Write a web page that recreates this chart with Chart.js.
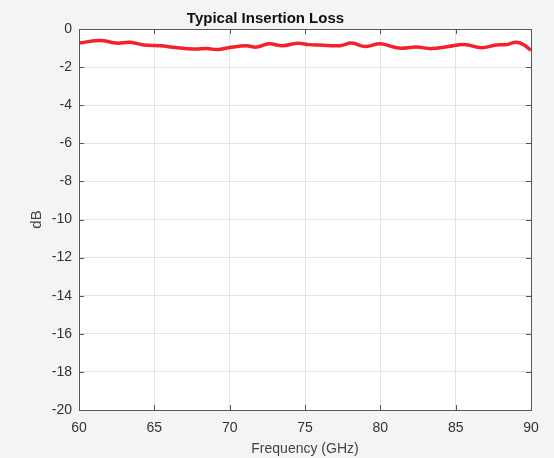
<!DOCTYPE html>
<html lang="en">
<head>
    <meta charset="UTF-8">
    <title>Typical Insertion Loss</title>
    <script src="https://cdn.jsdelivr.net/npm/chart.js"></script>
    <style>
        html, body { margin: 0; padding: 0; background: #f3f4f6; }
        #wrap { width: 554px; height: 458px; }
    </style>
</head>
<body>
    <div id="wrap"><canvas id="lossChart" width="554" height="458"></canvas></div>

    <script>
        // Frekvencia (GHz) és beiktatási csillapítás (dB)
        const freqGHz = [60, 61.4, 62.5, 63.4, 64.3, 65.4, 66.4, 67.6, 68.5, 69.2, 70, 71.1, 71.8, 72.6, 73.5, 74.5,
                         75.3, 76, 77.3, 78.1, 79, 80, 81.2, 82.4, 83.4, 84.5, 85.6, 86.7, 87.7, 88.4, 89, 89.5, 90];
        const lossDb = [-0.74, -0.6, -0.74, -0.7, -0.84, -0.88, -0.97, -1.05, -1.03, -1.08, -0.97, -0.88, -0.95, -0.78, -0.88, -0.75,
                        -0.82, -0.84, -0.88, -0.74, -0.92, -0.78, -1.0, -0.95, -1.03, -0.92, -0.81, -0.98, -0.84, -0.82, -0.7, -0.82, -1.12];
        const xTicks = [60, 65, 70, 75, 80, 85, 90];
        const yTicks = [0, -2, -4, -6, -8, -10, -12, -14, -16, -18, -20];

        const font = 'Liberation Sans, Arial, sans-serif';

        // fehér rajzterület + befelé álló osztásjelek mind a négy oldalon
        const boxPlugin = {
            id: 'box',
            beforeDraw(chart) {
                const { ctx, chartArea: a } = chart;
                ctx.save();
                ctx.fillStyle = '#ffffff';
                ctx.fillRect(a.left, a.top, a.right - a.left, a.bottom - a.top);
                ctx.restore();
            },
            afterDatasetsDraw(chart) {
                const { ctx, chartArea: a, scales } = chart;
                ctx.save();
                ctx.strokeStyle = '#555';
                ctx.lineWidth = 1;
                ctx.beginPath();
                xTicks.forEach(v => {
                    const x = Math.round(scales.x.getPixelForValue(v)) + 0.5;
                    ctx.moveTo(x, a.bottom); ctx.lineTo(x, a.bottom - 5);
                    ctx.moveTo(x, a.top); ctx.lineTo(x, a.top + 5);
                });
                yTicks.forEach(v => {
                    const y = Math.round(scales.y.getPixelForValue(v)) + 0.5;
                    ctx.moveTo(a.left, y); ctx.lineTo(a.left + 5, y);
                    ctx.moveTo(a.right, y); ctx.lineTo(a.right - 5, y);
                });
                ctx.stroke();
                ctx.strokeRect(Math.round(a.left) + 0.5, Math.round(a.top) + 0.5,
                    Math.round(a.right - a.left), Math.round(a.bottom - a.top));
                ctx.restore();
            }
        };

        const ctx = document.getElementById('lossChart').getContext('2d');
        const chart = new Chart(ctx, {
            type: 'line',
            data: {
                datasets: [{
                    data: freqGHz.map((f, i) => ({ x: f, y: lossDb[i] })),
                    borderColor: '#f2212b',
                    borderWidth: 3.5,
                    pointRadius: 0,
                    tension: 0.4,
                    fill: false
                }]
            },
            options: {
                responsive: false,
                animation: false,
                layout: { padding: { left: 0, right: 23, top: 0, bottom: 0 } },
                plugins: {
                    legend: { display: false },
                    tooltip: { enabled: false },
                    title: {
                        display: true,
                        text: 'Typical Insertion Loss',
                        color: '#111',
                        font: { family: font, size: 15, weight: 'bold' },
                        padding: { top: 10, bottom: 1 }
                    }
                },
                scales: {
                    x: {
                        type: 'linear',
                        min: 60, max: 90,
                        afterBuildTicks: s => { s.ticks = xTicks.map(v => ({ value: v })); },
                        afterFit: s => { s.height = 48; },
                        grid: { color: '#e3e3e3', drawTicks: false },
                        border: { display: false },
                        ticks: { color: '#333', font: { family: font, size: 14 }, padding: 10, maxRotation: 0 },
                        title: {
                            display: true,
                            text: 'Frequency (GHz)',
                            color: '#444',
                            font: { family: font, size: 14 },
                            padding: { top: 0, bottom: 0 }
                        }
                    },
                    y: {
                        min: -20, max: 0,
                        afterBuildTicks: s => { s.ticks = yTicks.map(v => ({ value: v })); },
                        afterFit: s => { s.width = 79; },
                        grid: { color: '#e3e3e3', drawTicks: false },
                        border: { display: false },
                        ticks: { color: '#333', font: { family: font, size: 14 }, padding: 7 },
                        title: {
                            display: true,
                            text: 'dB',
                            color: '#444',
                            font: { family: font, size: 15 },
                            padding: { top: 28, bottom: 4 }
                        }
                    }
                }
            },
            plugins: [boxPlugin]
        });
    </script>
</body>
</html>
